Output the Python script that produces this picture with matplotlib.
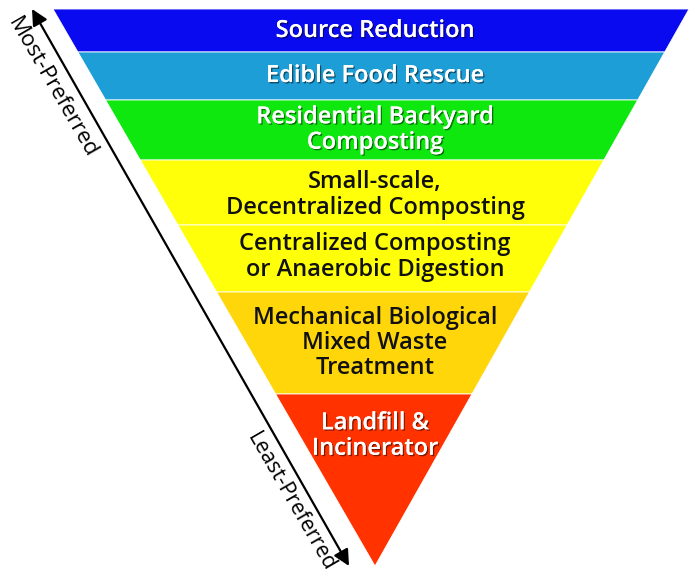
import matplotlib.pyplot as plt
import matplotlib.patheffects as pe
from matplotlib.patches import Polygon

# tiers of the hierarchy, top (most preferred) to bottom
labels = [
    "Source Reduction",
    "Edible Food Rescue",
    "Residential Backyard\nComposting",
    "Small-scale,\nDecentralized Composting",
    "Centralized Composting\nor Anaerobic Digestion",
    "Mechanical Biological\nMixed Waste\nTreatment",
    "Landfill &\nIncinerator",
]
# band edges (pixel rows) of each tier
edges = [9, 52, 100, 160, 225, 292, 394, 566]
colors = ["#0a0af0", "#1e9ed6", "#0ee80e", "#ffff0a", "#ffff0a", "#ffd60a", "#ff3200"]
text_colors = ["white", "white", "white", "#111111", "#111111", "#111111", "white"]
text_y = [31, 76, 130, 195, 257, 343, 436]

top_left, top_right, apex_x = 53, 689, 375

fig = plt.figure(figsize=(6.89, 5.74), dpi=100)
ax = fig.add_axes([0, 0, 1, 1])
ax.set_xlim(0, 689)
ax.set_ylim(574, 0)
ax.axis("off")

def side_x(y, x0):
    # x of triangle side at row y
    return x0 + (apex_x - x0) * (y - edges[0]) / (edges[-1] - edges[0])

for i, lab in enumerate(labels):
    y0, y1 = edges[i], edges[i + 1]
    pts = [(side_x(y0, top_left), y0), (side_x(y0, top_right), y0),
           (side_x(y1, top_right), y1), (side_x(y1, top_left), y1)]
    ax.add_patch(Polygon(pts, closed=True, facecolor=colors[i],
                         edgecolor="#ffffff", linewidth=0.6))
    effects = []
    if text_colors[i] == "white":
        effects = [pe.withSimplePatchShadow(offset=(1, -1), shadow_rgbFace="#000000", alpha=0.5), pe.Normal()]
    ax.text(375, text_y[i], lab, ha="center", va="center", color=text_colors[i],
            fontsize=17, family="Open Sans", weight="semibold", linespacing=1.08,
            path_effects=effects)

# preference arrow on the left
ax.annotate("", xy=(32, 9), xytext=(349, 566),
            arrowprops=dict(arrowstyle="<|-|>", color="black", lw=1.6,
                            mutation_scale=24, shrinkA=0, shrinkB=0))

ax.text(52, 88, "Most-Preferred", rotation=-60, ha="center", va="center",
        fontsize=16, family="Open Sans", rotation_mode="anchor")
ax.text(291, 502, "Least-Preferred", rotation=-60, ha="center", va="center",
        fontsize=15.5, family="Open Sans", rotation_mode="anchor")

fig.savefig("out.png", dpi=100)
